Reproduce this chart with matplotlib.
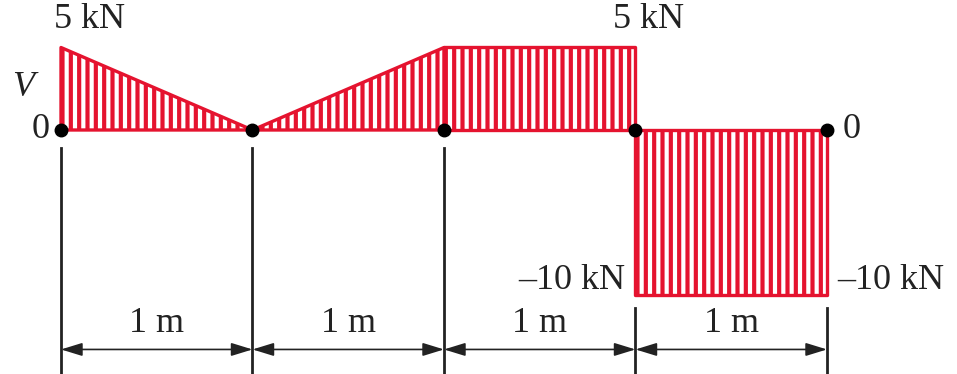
import numpy as np
import matplotlib.pyplot as plt

# ====================
# Données du diagramme de l'effort tranchant
# ====================
x_nodes = [0, 1, 2, 3, 4]           # positions (m)
seg_x = [(0, 1), (1, 2), (2, 3), (3, 4)]
seg_v = [(5, 0), (0, 5), (5, 5), (-10, -10)]   # V (kN) début / fin
v_at_node = [5, 0, 5, -10, -10]
span_labels = ['1 m', '1 m', '1 m', '1 m']

RED = '#e5132f'
INK = '#222222'
plt.rcParams['font.family'] = ['Liberation Serif', 'DejaVu Serif']
plt.rcParams['hatch.linewidth'] = 3.0

fig = plt.figure(figsize=(9.57, 3.74), dpi=100)
ax = fig.add_axes([0, 0, 1, 1])
# 1 m = 191.5 px, 1 kN = 16.5 px
ax.set_xlim(-61 / 191.5, (957 - 61) / 191.5)
ax.set_ylim(-244 / 16.5, 130 / 16.5)
ax.axis('off')

# Surfaces hachurées
for (xa, xb), (va, vb) in zip(seg_x, seg_v):
    ax.fill_between([xa, xb], [va, vb], 0, facecolor='white', edgecolor=RED,
                    hatch='||', linewidth=2.4, zorder=2)

# Points nodaux
ax.plot(x_nodes, np.zeros(len(x_nodes)), 'o', color='black', markersize=9, zorder=5)

# Lignes d'attache
for xn, vn in zip(x_nodes, v_at_node):
    top = min(vn, 0) - (0.8 if vn < 0 else 1.1)
    ax.plot([xn, xn], [top, -15], color=INK, linewidth=2, zorder=1)

# Cotes
y_dim = -13.3
for (xa, xb), lab in zip(seg_x, span_labels):
    ax.annotate('', xy=(xb, y_dim), xytext=(xa, y_dim),
                arrowprops=dict(arrowstyle='<|-|>,head_length=1.3,head_width=0.4',
                                color=INK, lw=1.2, shrinkA=0, shrinkB=0))
    ax.text((xa + xb) / 2, -11.7, lab, ha='center', va='center', fontsize=26,
            color=INK)

# Étiquettes
fs = 26
ax.text(-0.035, 6.7, '5 kN', ha='left', va='center', fontsize=fs, color=INK)
ax.text(3.07, 6.7, '5 kN', ha='center', va='center', fontsize=fs, color=INK)
ax.text(-0.2, 2.55, 'V', ha='center', va='center', fontsize=fs, style='italic',
        color=INK)
ax.text(-0.06, 0, '0', ha='right', va='center', fontsize=fs, color=INK)
ax.text(4.08, 0, '0', ha='left', va='center', fontsize=fs, color=INK)
ax.text(2.945, -9.1, '\u201310 kN', ha='right', va='center', fontsize=fs, color=INK)
ax.text(4.055, -9.1, '\u201310 kN', ha='left', va='center', fontsize=fs, color=INK)

fig.savefig('out.png', dpi=100)
